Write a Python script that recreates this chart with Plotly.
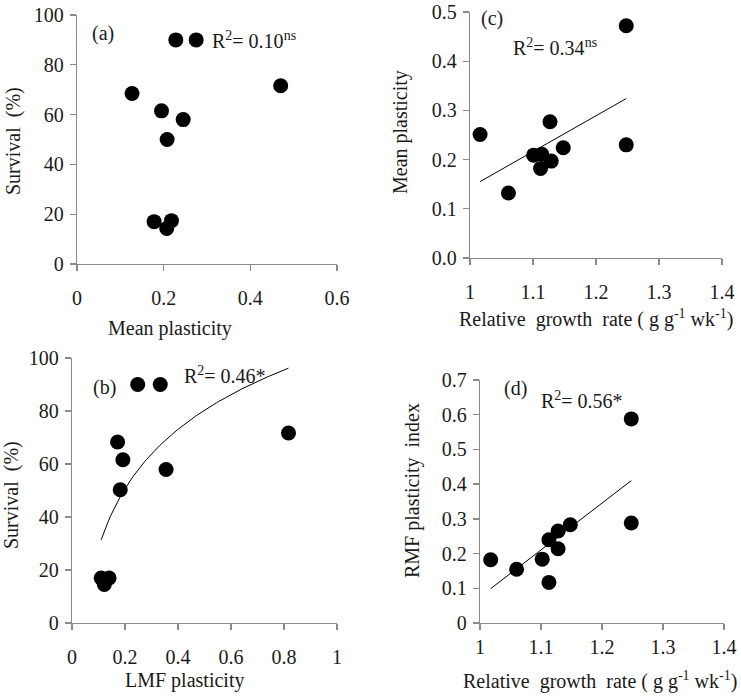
import numpy as np
import plotly.graph_objects as go

# ---- data ----
# (a) survival vs mean plasticity
a_mean_plast = [0.228, 0.275, 0.127, 0.195, 0.245, 0.208, 0.178, 0.218, 0.207, 0.470]
a_survival = [90, 90, 68.5, 61.5, 58, 50, 17, 17.4, 14.3, 71.6]

# (b) survival vs LMF plasticity
b_lmf_plast = [0.248, 0.333, 0.172, 0.192, 0.182, 0.355, 0.817, 0.110, 0.140, 0.122]
b_survival = [90, 90, 68.3, 61.6, 50.3, 57.9, 71.7, 17, 17, 14.5]

# (c) mean plasticity vs relative growth rate
c_rgr = [1.016, 1.061, 1.101, 1.114, 1.112, 1.129, 1.127, 1.148, 1.248, 1.248]
c_mean_plast = [0.251, 0.132, 0.209, 0.211, 0.182, 0.197, 0.277, 0.224, 0.472, 0.230]

# (d) RMF plasticity index vs relative growth rate
d_rgr = [1.0175, 1.060, 1.102, 1.113, 1.113, 1.128, 1.128, 1.148, 1.248, 1.248]
d_rmf_plast = [0.182, 0.155, 0.184, 0.240, 0.117, 0.265, 0.214, 0.283, 0.588, 0.288]

W, H = 741, 696
FONT = "Liberation Serif"
TXT = "#1a1a1a"
AXC = "#8a8a8a"

fig = go.Figure()

marker = dict(color="black", size=15, line=dict(width=0))

def scatter(x, y, xa, ya):
    fig.add_trace(go.Scatter(x=x, y=y, mode="markers", marker=marker,
                             xaxis=xa, yaxis=ya, showlegend=False, hoverinfo="skip"))

scatter(a_mean_plast, a_survival, "x", "y")
scatter(b_lmf_plast, b_survival, "x2", "y2")
scatter(c_rgr, c_mean_plast, "x3", "y3")
scatter(d_rgr, d_rmf_plast, "x4", "y4")

# fitted curves computed from the data
bx = np.array(b_lmf_plast); by = np.array(b_survival)
ka, kb = np.polyfit(np.log(bx), by, 1)
bxs = np.linspace(bx.min(), bx.max(), 100)
fig.add_trace(go.Scatter(x=bxs, y=ka * np.log(bxs) + kb, mode="lines",
                         line=dict(color="black", width=1), xaxis="x2", yaxis="y2",
                         showlegend=False, hoverinfo="skip"))

for xs, ys, xa, ya in [(c_rgr, c_mean_plast, "x3", "y3"), (d_rgr, d_rmf_plast, "x4", "y4")]:
    xs = np.array(xs); ys = np.array(ys)
    m, c = np.polyfit(xs, ys, 1)
    xl = np.array([xs.min(), xs.max()])
    fig.add_trace(go.Scatter(x=xl, y=m * xl + c, mode="lines",
                             line=dict(color="black", width=1), xaxis=xa, yaxis=ya,
                             showlegend=False, hoverinfo="skip"))

def px_dom_x(a, b):
    return [a / W, b / W]

def px_dom_y(top, bottom):
    return [1 - bottom / H, 1 - top / H]

def axis(dom, rng, dtick, anchor, standoff=0, fmt=None):
    d = dict(domain=dom, range=rng, dtick=dtick, tick0=0, anchor=anchor, automargin=False,
             showgrid=False, zeroline=False, showline=True, linecolor=AXC, linewidth=1.3,
             ticks="outside", ticklen=6, tickcolor=AXC, tickwidth=1.3,
             tickfont=dict(family=FONT, size=20, color=TXT), ticklabelstandoff=standoff,
             fixedrange=True)
    if fmt:
        d["tickformat"] = fmt
    return d

fig.update_layout(
    template="none",
    width=W, height=H, margin=dict(l=0, r=0, t=0, b=0, autoexpand=False),
    paper_bgcolor="white", plot_bgcolor="white",
    font=dict(family=FONT, size=20, color=TXT),
    xaxis=axis(px_dom_x(77, 337), [0, 0.6], 0.2, "y", 10),
    yaxis=axis(px_dom_y(15, 264), [0, 100], 20, "x", 2),
    xaxis2=axis(px_dom_x(72, 337), [0, 1], 0.2, "y2", 10),
    yaxis2=axis(px_dom_y(358, 623), [0, 100], 20, "x2", 2),
    xaxis3=axis(px_dom_x(470, 722), [1, 1.4], 0.1, "y3", 10),
    yaxis3=axis(px_dom_y(12, 258), [0, 0.5], 0.1, "x3", 2, ".1f"),
    xaxis4=axis(px_dom_x(480, 724), [1, 1.4], 0.1, "y4", 0),
    yaxis4=axis(px_dom_y(380, 623), [0, 0.7], 0.1, "x4", 2),
)

NB = "\u00a0"
def ann(text, x, y, angle=0):
    fig.add_annotation(text=text, x=x / W, y=1 - y / H, xref="paper", yref="paper",
                       xanchor="center", yanchor="middle", showarrow=False, textangle=angle,
                       font=dict(family=FONT, size=20, color=TXT))

# panel labels & R2
ann("(a)", 103, 33)
ann("R<sup>2</sup>= 0.10<sup>ns</sup>", 254, 40)
ann("(c)", 492, 19)
ann("R<sup>2</sup>= 0.34<sup>ns</sup>", 555, 47)
ann("(b)", 104, 387)
ann("R<sup>2</sup>= 0.46*", 225, 375)
ann("(d)", 515, 388)
ann("R<sup>2</sup>= 0.56*", 582, 400)

# axis titles
rgr_title = "Relative" + NB + " growth" + NB + " rate ( g g<sup>-1</sup> wk<sup>-1</sup>)"
ann("Mean plasticity", 170, 328)
ann(rgr_title, 596, 318)
ann("LMF plasticity", 184, 680)
ann(rgr_title, 600, 680)
ann("Survival" + NB + " (%)", 13, 141, -90)
ann("Survival" + NB + " (%)", 12, 495, -90)
ann("Mean plasticity", 400, 132, -90)
ann("RMF plasticity" + NB + " index", 412, 491, -90)

fig.write_html("out.html", config={"displayModeBar": False, "staticPlot": True},
               post_script="document.body.style.margin='0';document.body.style.overflow='hidden';")
